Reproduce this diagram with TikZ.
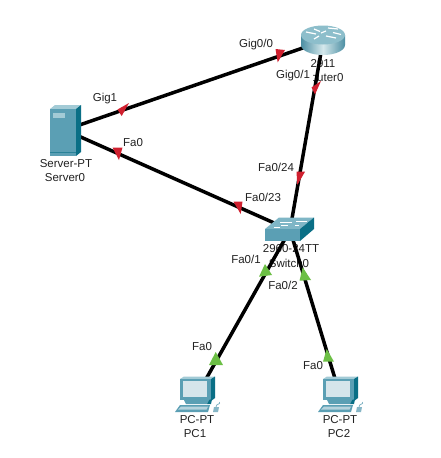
\documentclass[tikz,border=0pt]{standalone}
\usepackage{fontspec}
\setmainfont{Liberation Sans}
\definecolor{fronttc}{HTML}{5B9FB4}
\definecolor{sidetc}{HTML}{0A6F86}
\definecolor{toptc}{HTML}{A3CBD6}
\definecolor{switchtop}{HTML}{7FB6C6}
\definecolor{rtop}{HTML}{8DBECB}
\definecolor{rdark}{HTML}{4C8FA3}
\definecolor{rlight}{HTML}{D5E8EC}
\definecolor{screenc}{HTML}{D6E5EB}
\definecolor{kbc}{HTML}{86B6C6}
\definecolor{redmark}{HTML}{D0202F}
\definecolor{greenmark}{HTML}{6CBF45}
\definecolor{txt}{HTML}{222222}
\begin{document}
\begin{tikzpicture}[x=1pt,y=-1pt,
  lbl/.style={inner sep=0pt,font=\fontsize{11.5}{13}\selectfont,text=txt},
  port/.style={lbl,fill=white,inner sep=1.2pt},
  dev/.style={inner sep=0pt,minimum width=#1,draw=none},
  link/.style={line width=3.5pt,black},
  redtip/.style={fill=redmark},
  greentip/.style={fill=greenmark},
  pcbody/.pic={
    \fill[toptc] (-17,-16) -- (-13,-18.5) -- (18,-18.5) -- (14,-16) -- cycle;
    \fill[fronttc] (-17,-16) rectangle (14,5);
    \fill[sidetc] (14,-16) -- (18,-18.5) -- (18,3) -- (14,6) -- cycle;
    \fill[screenc] (-14,-14) rectangle (10,2);
    \fill[fronttc] (-13,5) -- (12,5) -- (10,9) -- (-11,9) -- cycle;
    \fill[sidetc] (12,5) -- (15,4) -- (14,9) -- (10,9) -- cycle;
    \fill[fronttc] (-22,17) -- (-17,10) -- (13,10) -- (11,17) -- cycle;
    \fill[kbc!60!white] (-19,14.5) -- (-16,11.5) -- (11,11.5) -- (9.5,14.5) -- cycle;
    \fill[kbc] (16,17) -- (17,12) -- (22,12) -- (21,17) -- cycle;
    \draw[kbc,line width=.8pt] (19,12) .. controls (19,8) and (24,10) .. (22.5,7);
  }]
\useasboundingbox (0,0) rectangle (440,458);
\fill[white] (0,0) rectangle (440,458);

% device name labels (beneath links and port labels)
\node[lbl] (l2911) at (323,64) {2911};
\node[lbl] (lrouter) at (323,78) {Router0};
\node[lbl] (l2960) at (291,249) {2960-24TT};
\node[lbl] (lswitch) at (289,263) {Switch0};
\node[lbl] (lserver) at (66,164) {Server-PT};
\node[lbl] (lserver2) at (65,178) {Server0};
\node[lbl] (lpc) at (197,420) {PC-PT};
\node[lbl] (lpc1) at (195,434) {PC1};
\node[lbl] (lpcb) at (340,420) {PC-PT};
\node[lbl] (lpc2) at (339,434) {PC2};

% anchor nodes of the devices
\node[dev=44pt,minimum height=29pt] (router) at (323,41) {};
\node[dev=31pt,minimum height=51pt] (server) at (65,130) {};
\node[dev=49pt,minimum height=23pt] (switch) at (290,230) {};
\node[dev=40pt,minimum height=35pt] (pc1) at (197,395) {};
\node[dev=40pt,minimum height=35pt] (pc2) at (340,395) {};

% port labels that mask the device names
\node[port,inner xsep=3pt] (pg01) at (293,76) {Gig0/1};

% links
\draw[link] (server.center) -- (router.center);
\draw[link] (server.center) -- (switch.center);
\draw[link] (router.center) -- (switch.center);
\draw[link] (switch.center) -- (pc1.center);
\draw[link] (switch.center) -- (pc2.center);

% server
\begin{scope}[shift={(server.center)}]
  \fill[toptc] (-15,-21) -- (-10,-25) -- (16,-25) -- (11,-21) -- cycle;
  \fill[fronttc] (-15,-21) rectangle (11,26);
  \fill[sidetc] (11,-21) -- (16,-25) -- (16,22) -- (11,26) -- cycle;
  \fill[toptc] (-12,-17) rectangle (0,-12);
  \draw[sidetc!60!fronttc,line width=.5pt] (-15,22) -- (11,22);
\end{scope}

% router
\begin{scope}[shift={(router.center)}]
  \shade[left color=rdark,right color=rdark,middle color=rlight]
    (-22,-6) -- (-22,4) arc[start angle=180,end angle=0,x radius=22,y radius=10]
    -- (22,-6) -- cycle;
  \fill[rtop] (0,-6) ellipse[x radius=22,y radius=9.5];
  \draw[white,line width=1.2pt] (-17,-9) -- (-7,-7) (-9,-12) -- (-3,-9.5)
     (3,-5) -- (13,-3) (3,-10) -- (-2,-8) (5,-13) -- (15,-12) (10,-8.5) -- (18,-6.5)
     (-4,-5) -- (-9,-2);
\end{scope}

% switch
\begin{scope}[shift={(switch.center)}]
  \fill[switchtop] (-25,-1) -- (-11,-12.5) -- (24,-12.5) -- (10,-1) -- cycle;
  \fill[fronttc] (-25,-1) rectangle (10,11);
  \fill[sidetc] (10,-1) -- (24,-12.5) -- (24,-1) -- (10,11) -- cycle;
  \draw[white,line width=1pt] (-10,-8) -- (2,-8) (6,-9) -- (17,-9)
     (-16,-3) -- (-10,-3) (-9,-4.5) -- (-2,-4.5) (5,-5) -- (9,-5);
\end{scope}

\pic at (pc1.center) {pcbody};
\pic at (pc2.center) {pcbody};

% link status markers
\fill[redtip] (275.5,49) -- (285,50) -- (277.7,62.3) -- cycle;
\fill[redtip] (311.5,87.5) -- (321,81) -- (315,94.5) -- cycle;
\fill[redtip] (117.5,109.5) -- (129,103) -- (121.7,116) -- cycle;
\fill[redtip] (112.5,147.5) -- (122.5,147.5) -- (119,160) -- cycle;
\fill[redtip] (233.5,201.7) -- (242.5,201.7) -- (240.7,214) -- cycle;
\fill[redtip] (296.5,171.7) -- (305,171.7) -- (297.3,185) -- cycle;
\fill[greentip] (259,276.7) -- (272,275) -- (265,264) -- cycle;
\fill[greentip] (299.5,280.7) -- (311,280) -- (302.7,267.3) -- cycle;
\fill[greentip] (209,365) -- (223,365) -- (215.7,352) -- cycle;
\fill[greentip] (323,361.7) -- (334,361.7) -- (326.7,349) -- cycle;

% port labels
\node[lbl] (pg00) at (256,45) {Gig0/0};
\node[lbl] (pg1) at (105,99) {Gig1};
\node[lbl] (pfa0s) at (133,143) {Fa0};
\node[lbl] (pf24) at (276,167) {Fa0/24};
\node[lbl] (pf23) at (263,197) {Fa0/23};
\node[lbl] (pf1) at (246,259) {Fa0/1};
\node[lbl] (pf2) at (283,285) {Fa0/2};
\node[lbl] (pfa1) at (202,347) {Fa0};
\node[lbl] (pfa2) at (313,366) {Fa0};
\end{tikzpicture}
\end{document}
